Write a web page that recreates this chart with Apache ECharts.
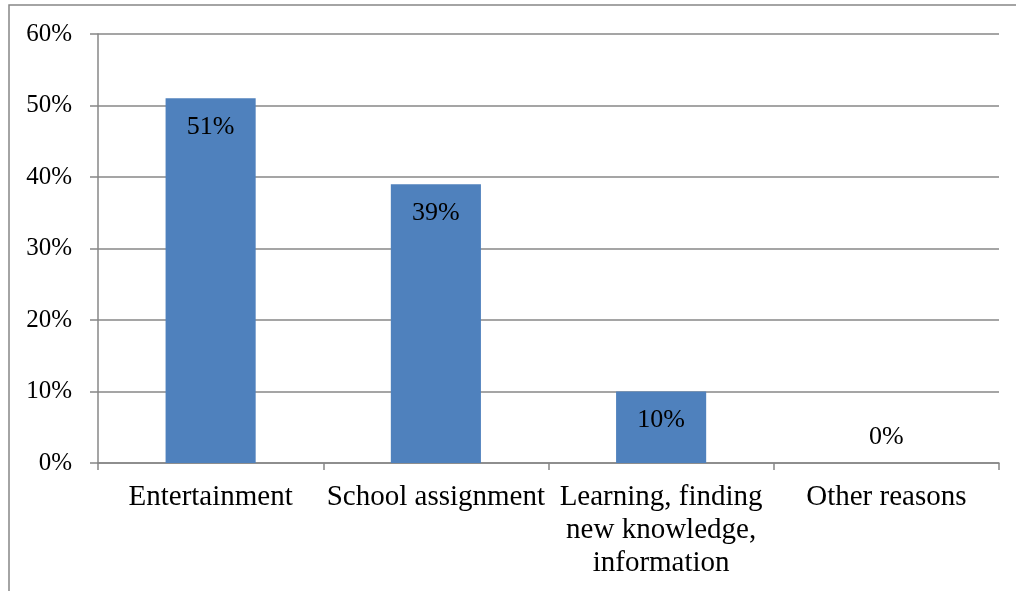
<!DOCTYPE html>
<html>
<head>
<meta charset="utf-8">
<script src="https://cdn.jsdelivr.net/npm/echarts@6/dist/echarts.min.js"></script>
<style>
  html, body { margin: 0; padding: 0; background: #fff; }
  #main { width: 1016px; height: 591px; }
</style>
</head>
<body>
<div id="main"></div>
<script>
// data
var categories = ["Entertainment", "School assignment", "Learning, finding\nnew knowledge,\ninformation", "Other reasons"];
var shares = [51, 39, 10, 0];
var yTicks = [0, 10, 20, 30, 40, 50, 60];

var font = "'Liberation Serif', 'Times New Roman', serif";
var grey = "#878787";

var chart = echarts.init(document.getElementById("main"));

var barData = shares.map(function (v) {
  if (v === 0) {
    // empty bar: label sits above the axis
    return { value: v, label: { position: "top", distance: 13 } };
  }
  return v;
});

chart.setOption({
  animation: false,
  // outer chart frame, mostly cut off by the crop
  graphic: [{
    type: "rect",
    shape: { x: 9, y: 5, width: 1030, height: 620 },
    style: { fill: "none", stroke: grey, lineWidth: 1.5 },
    silent: true
  }],
  grid: { left: 98, right: 17, top: 34, bottom: 128 },
  xAxis: {
    type: "category",
    data: categories,
    axisLine: { lineStyle: { color: grey, width: 1.5 } },
    axisTick: { show: true, length: 7, lineStyle: { color: grey, width: 1.5 } },
    axisLabel: {
      color: "#000",
      fontFamily: font,
      fontSize: 29,
      lineHeight: 33,
      margin: 18,
      interval: 0
    }
  },
  yAxis: {
    type: "value",
    min: yTicks[0],
    max: yTicks[yTicks.length - 1],
    interval: 10,
    axisLine: { show: true, lineStyle: { color: grey, width: 1.5 } },
    axisTick: { show: true, length: 8, lineStyle: { color: grey, width: 1.5 } },
    splitLine: { lineStyle: { color: grey, width: 1.5 } },
    axisLabel: {
      color: "#000",
      fontFamily: font,
      fontSize: 25,
      margin: 26,
      formatter: "{value}%"
    }
  },
  series: [{
    type: "bar",
    data: barData,
    barWidth: "40%",
    itemStyle: { color: "#4F81BD" },
    label: {
      show: true,
      position: "insideTop",
      distance: 16,
      color: "#000",
      fontFamily: font,
      fontSize: 26,
      formatter: "{c}%"
    }
  }]
});
</script>
</body>
</html>
